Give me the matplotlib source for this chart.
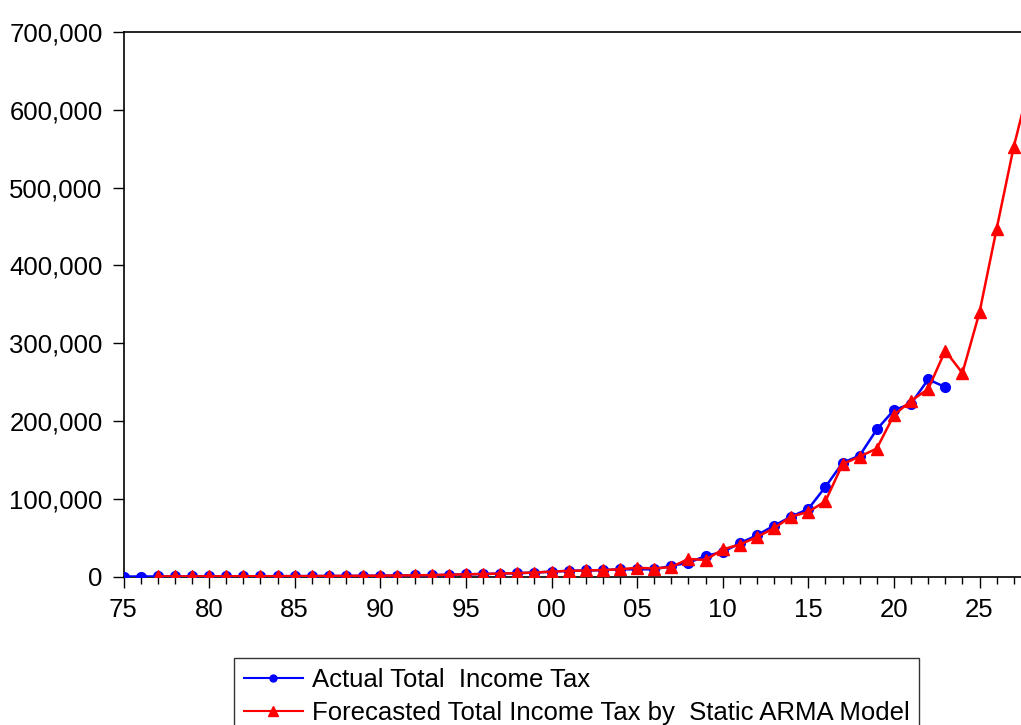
import matplotlib.pyplot as plt
from matplotlib.lines import Line2D
from matplotlib.ticker import FuncFormatter, MultipleLocator

plt.rcParams['font.family'] = ['Liberation Sans', 'DejaVu Sans']

actual_years = list(range(1975, 2024))
actual_tax = [200, 250, 300, 350, 400, 450, 500, 550, 600, 650,
              700, 800, 900, 1000, 1100, 1300, 1500, 1800, 2000, 2500,
              3000, 3500, 4000, 4600, 5300, 6500, 7500, 8000, 8500, 9500,
              9500, 9500, 14000, 18000, 26600, 31800, 43000, 53300, 65600, 77200,
              87100, 115400, 146300, 155700, 189200, 214100, 222200, 253500, 243700]

forecast_years = list(range(1977, 2029))
forecast_tax = [300, 350, 400, 450, 500, 550, 600, 650, 700, 800,
                900, 1000, 1100, 1300, 1500, 1800, 2000, 2500, 3000, 3500,
                4000, 4600, 5300, 6500, 7500, 8000, 8500, 9500, 11500, 10500,
                12500, 22800, 21500, 35200, 41200, 51100, 62300, 77200, 83300, 97000,
                144600, 154400, 164700, 207700, 226100, 241100, 290400, 261700, 339700, 447000,
                552500, 640000]

fig = plt.figure(figsize=(10.21, 7.25), dpi=100)
# axes runs past the right edge of the figure, like the cropped original
ax = fig.add_axes([123.5 / 1021, 1 - 576.7 / 725, 53 * 17.12 / 1021, (576.7 - 32) / 725])

ax.plot(actual_years, actual_tax, color='#0000ff', lw=1.8, marker='o', ms=7, zorder=3)
ax.plot(forecast_years, forecast_tax, color='#ff0000', lw=1.8, marker='^', ms=8.5, zorder=4)

ax.set_xlim(1975, 2028)
ax.set_ylim(0, 700000)
ax.xaxis.set_major_locator(MultipleLocator(5))
ax.xaxis.set_minor_locator(MultipleLocator(1))
ax.xaxis.set_major_formatter(FuncFormatter(lambda v, p: '%02d' % (int(round(v)) % 100)))
ax.yaxis.set_major_locator(MultipleLocator(100000))
ax.yaxis.set_major_formatter(FuncFormatter(lambda v, p: '{:,.0f}'.format(v)))

ax.tick_params(axis='both', which='major', direction='out', length=8, width=1,
               labelsize=18.5, pad=7)
ax.tick_params(axis='x', which='minor', direction='out', length=5, width=1)
ax.tick_params(axis='y', which='both', right=False)
for side in ['left', 'bottom', 'top', 'right']:
    ax.spines[side].set_linewidth(1.2)

handles = [Line2D([], [], color='#0000ff', lw=1.5, marker='o', ms=5),
           Line2D([], [], color='#ff0000', lw=1.5, marker='^', ms=6.5)]
labels = ['Actual Total  Income Tax', 'Forecasted Total Income Tax by  Static ARMA Model']
leg = fig.legend(handles, labels, loc='upper center', bbox_to_anchor=(576.5 / 1021, 1 - 658 / 725),
                 fontsize=18.5, frameon=True, fancybox=False, edgecolor='black',
                 handlelength=2.3, handletextpad=0.35, borderpad=0.38, labelspacing=0.36,
                 borderaxespad=0)
leg.get_frame().set_linewidth(1.0)

fig.savefig('out.png', dpi=100)
